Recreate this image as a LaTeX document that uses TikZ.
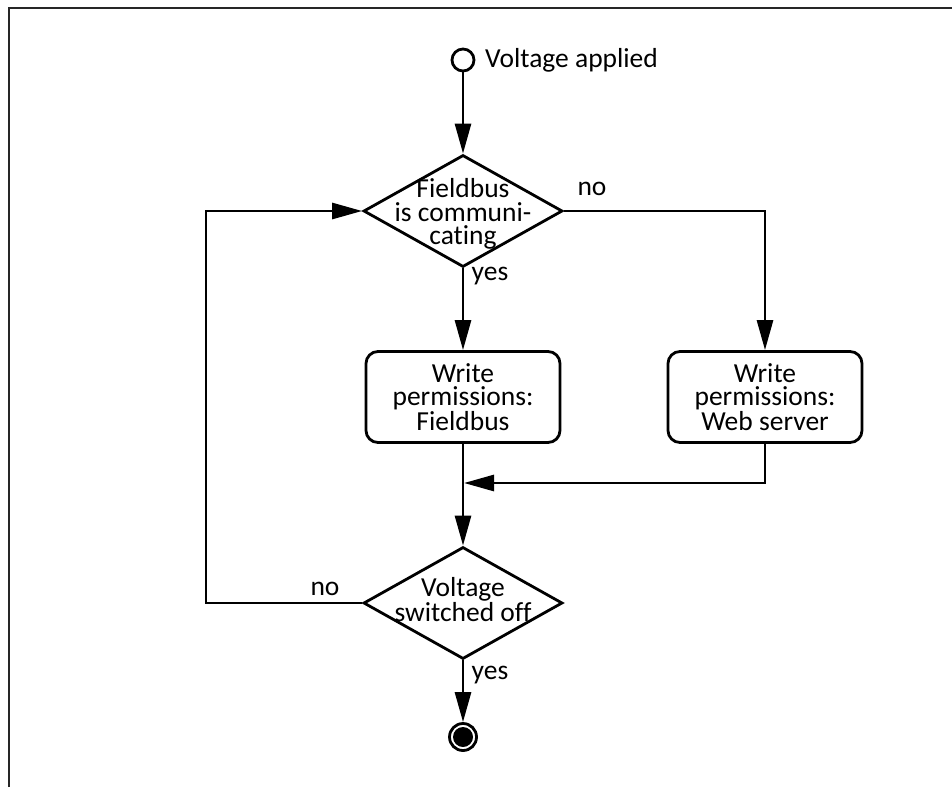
\documentclass[tikz,border=0pt]{standalone}
\usepackage{fontspec}
\setmainfont{Carlito}[Ligatures=NoCommon]
\usetikzlibrary{arrows.meta,shapes.geometric}
\newcommand{\flowfont}{\fontsize{27.5}{23.5}\selectfont}
\tikzset{>={Triangle[length=30pt,width=16pt]},flow/.style={->,line width=2.8pt},decision/.style={diamond,draw,line width=2.8pt,minimum width=199pt,minimum height=112pt,inner sep=0pt},dtext/.style={align=center,font=\flowfont,inner sep=0pt},action/.style={draw,line width=2.8pt,rounded corners=12pt,minimum width=194pt,minimum height=91pt,align=center,font=\flowfont,inner sep=0pt},tag/.style={font=\flowfont,inner sep=0pt},term/.style={circle,draw,line width=2.8pt,inner sep=0pt}}

\begin{document}
\begin{tikzpicture}[x=1pt,y=-1pt]
\useasboundingbox (0,0) rectangle (952,787);
\draw[line width=2.2pt,black!85] (9,787)--(9,8)--(952,8);
\node[term,minimum size=22pt] (start) at (463,60) {};
\node[tag,anchor=base west] (startlbl) at (485,67) {Voltage applied};
\node[decision,label={[dtext,yshift=-3pt]center:{Fieldbus\\is communi-\\cating}}] (bus) at (463,211) {};
\node[action] (wfb) at (463,397) {Write\\permissions:\\Fieldbus};
\node[action] (wws) at (765,397) {Write\\permissions:\\Web server};
\node[decision,label={[dtext,yshift=3.5pt]center:{Voltage\\switched off}}] (off) at (463,603) {};
\node[term,minimum size=27pt] (stop) at (463,737) {};
\node[circle,fill,inner sep=0pt,minimum size=20pt] (stopdot) at (stop.center) {};
\coordinate (join) at (464,483);\coordinate (back) at (206,603);
\draw[flow] (start)--(bus.north);
\draw[flow] (bus.east)-|(wws.north);
\draw[flow] (bus.south)--(wfb.north);
\draw[flow] (wws.south)|-(join);
\draw[flow] (wfb.south)--(off.north);
\draw[flow] (off.south)--(stop.north);
\draw[flow] (off.west)--(back)|-(bus.west);
\node[tag] (nobus) at (592,189) {no};
\node[tag] (yesbus) at (490,276) {yes};
\node[tag] (nooff) at (325,589) {no};
\node[tag] (yesoff) at (490,675) {yes};
\end{tikzpicture}
\end{document}
